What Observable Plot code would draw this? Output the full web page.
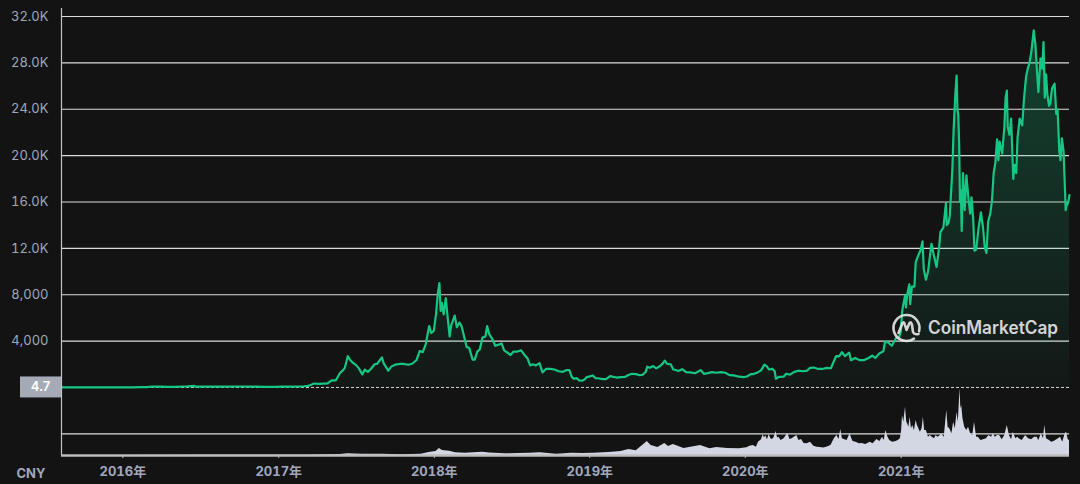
<!DOCTYPE html>
<html><head><meta charset="utf-8">
<script src="https://cdn.jsdelivr.net/npm/d3@7"></script>
<script src="https://cdn.jsdelivr.net/npm/@observablehq/plot@0.6"></script>
<style>
html,body{margin:0;padding:0;background:#131313;overflow:hidden;}
#chart{width:1080px;height:484px;}
</style></head><body><div id="chart"></div>
<script>
// ---- data (ETH price in CNY) ----
const price2015 = [["08-10",4.7],["08-20",8],["09-01",8.5],["09-15",5.8],["10-01",4.3],["10-20",3.2],["11-01",6.5],["11-15",6],["12-01",5.5],["12-20",5.7]];
const price2016 = [["01-10",6.3],["01-25",15],["02-10",25],["02-25",35],["03-10",75],["03-20",80],["04-01",75],["04-15",55],["05-01",56],["05-20",87],["06-01",92],["06-17",135],["06-20",70],["07-01",80],["07-20",84],["08-01",69],["08-20",73],["09-01",80],["09-20",88],["10-05",86],["10-25",75],["11-10",71],["11-25",56],["12-10",56],["12-25",49]];
const price2017 = [["01-05",70],["01-20",73],["02-05",79],["02-20",88],["03-01",110],["03-10",143],["03-15",195],["03-25",345],["04-05",310],["04-15",330],["04-25",345],["05-05",620],["05-15",620],["05-25",1270],["06-01",1500],["06-05",1700],["06-12",2700],["06-18",2350],["06-25",2100],["07-01",1950],["07-08",1650],["07-16",1130],["07-22",1550],["07-29",1340],["08-05",1600],["08-14",2000],["08-20",2050],["08-31",2600],["09-04",2100],["09-15",1450],["09-22",1800],["10-01",1970],["10-12",2030],["10-20",2040],["11-01",1960],["11-10",2050],["11-20",2350],["11-28",3150],["12-05",3050],["12-12",3750],["12-20",5300],["12-25",4700],["12-31",4900]];
const price2018 = [["01-05",6300],["01-09",8000],["01-13",9000],["01-16",6600],["01-19",7300],["01-23",6300],["01-28",7700],["02-01",6200],["02-06",4400],["02-10",5400],["02-18",6200],["02-23",5200],["03-01",5600],["03-06",5300],["03-12",4400],["03-18",3500],["03-24",3400],["04-01",2400],["04-06",2400],["04-12",3100],["04-18",3300],["04-24",4300],["05-01",4400],["05-05",5300],["05-10",4600],["05-17",4200],["05-24",3600],["06-01",3700],["06-08",3800],["06-14",3200],["06-22",3000],["06-29",2800],["07-06",3100],["07-15",3100],["07-24",3200],["08-01",2800],["08-08",2500],["08-14",1900],["08-20",2000],["08-27",1900],["09-05",2100],["09-12",1300],["09-20",1600],["09-30",1600],["10-10",1550],["10-20",1400],["10-30",1350],["11-08",1500],["11-14",1500],["11-20",900],["11-25",750],["12-01",810],["12-07",620],["12-14",580],["12-20",700],["12-25",900]];
const price2019 = [["01-01",960],["01-08",1040],["01-14",810],["01-20",800],["02-01",730],["02-08",720],["02-18",990],["02-25",920],["03-05",860],["03-15",900],["03-25",920],["04-03",1100],["04-10",1180],["04-20",1150],["04-28",1060],["05-05",1100],["05-12",1330],["05-16",1800],["05-22",1700],["05-30",1850],["06-06",1650],["06-15",1850],["06-22",2100],["06-26",2320],["07-01",2050],["07-10",2000],["07-16",1550],["07-20",1530],["07-28",1420],["08-06",1580],["08-15",1320],["08-25",1300],["09-05",1230],["09-18",1500],["09-26",1180],["10-05",1240],["10-15",1320],["10-25",1270],["11-05",1320],["11-15",1270],["11-25",1070],["12-05",1040],["12-18",930],["12-28",900]];
const price2020 = [["01-05",950],["01-14",1150],["01-20",1160],["01-30",1300],["02-07",1480],["02-15",1970],["02-20",1850],["02-26",1550],["03-05",1600],["03-10",1400],["03-13",760],["03-20",920],["03-31",930],["04-06",1190],["04-15",1110],["04-25",1350],["05-05",1450],["05-15",1400],["05-25",1450],["06-01",1700],["06-10",1720],["06-20",1600],["06-30",1600],["07-10",1690],["07-20",1660],["07-25",2100],["08-01",2700],["08-08",2680],["08-15",3040],["08-22",2700],["09-01",3000],["09-05",2350],["09-15",2550],["09-25",2360],["10-05",2360],["10-15",2530],["10-25",2740],["11-01",2550],["11-10",2920],["11-20",3130],["11-24",3950],["12-01",3890],["12-10",3600],["12-20",4270],["12-27",4330],["12-31",4800]];
const price2021 = [["01-03",6500],["01-05",7000],["01-10",7900],["01-12",6900],["01-15",8000],["01-20",8900],["01-22",7200],["01-26",8700],["02-01",8700],["02-04",10800],["02-10",11400],["02-15",11800],["02-20",12600],["02-23",10200],["02-28",9300],["03-05",10000],["03-13",12400],["03-18",11500],["03-25",10400],["03-31",12100],["04-03",13400],["04-10",13800],["04-16",15900],["04-18",14000],["04-22",14200],["04-25",14800],["05-01",18800],["05-04",22200],["05-08",25300],["05-11",26900],["05-13",24000],["05-15",23500],["05-17",21000],["05-19",16000],["05-21",17000],["05-23",13500],["05-26",18500],["05-30",15300],["06-03",18300],["06-08",16200],["06-12",15000],["06-15",16400],["06-19",14500],["06-22",11800],["06-26",11900],["07-01",13600],["07-07",15100],["07-12",13800],["07-16",12100],["07-20",11600],["07-24",14300],["07-29",15000],["08-02",16100],["08-06",18500],["08-10",19400],["08-14",21400],["08-17",19600],["08-20",21200],["08-26",20200],["08-31",22400],["09-03",25000],["09-06",25600],["09-08",22500],["09-12",21800],["09-16",23200],["09-21",18000],["09-24",19200],["09-28",18500],["10-01",21500],["10-06",23200],["10-12",22600],["10-16",24800],["10-21",26800],["10-25",27500],["10-29",28000],["11-03",29100],["11-08",30800],["11-10",30200],["11-12",29600],["11-16",27100],["11-19",25500],["11-24",28400],["11-28",27500],["12-01",29800],["12-04",25000],["12-07",27000],["12-10",25300],["12-14",24300],["12-17",24500],["12-21",25800],["12-27",26200],["12-31",23600]];
const price2022 = [["01-03",24000],["01-07",20400],["01-10",19600],["01-13",21500],["01-17",20400],["01-21",16500],["01-22",15300],["01-24",15700],["01-26",15800],["01-28",16000],["01-31",16600]];

// daily traded volume (billion CNY)
const volumeEarly = [["2015-08-10",0],["2016-01-01",0.5],["2016-06-17",2],["2016-12-31",1],["2017-03-01",2],["2017-05-25",6],["2017-06-12",10],["2017-07-16",8],["2017-08-31",7],["2017-10-15",5],["2017-12-01",8],["2017-12-20",18],["2018-01-05",24],["2018-01-13",42],["2018-01-20",30],["2018-02-06",26],["2018-02-20",16],["2018-03-15",14],["2018-04-25",20],["2018-05-10",15],["2018-06-15",10],["2018-08-14",14],["2018-09-06",16],["2018-10-15",8],["2018-11-20",14],["2018-12-15",12],["2019-01-10",14],["2019-02-15",18],["2019-03-15",24],["2019-04-03",36],["2019-04-20",28],["2019-05-16",84],["2019-05-25",60],["2019-06-10",48],["2019-06-26",72],["2019-07-05",54],["2019-07-16",66],["2019-08-10",42],["2019-09-18",60],["2019-10-10",40],["2019-10-26",48],["2019-11-20",42],["2019-12-18",40]];
const volume2020 = [["01-05",46],["01-12",55],["01-20",60],["01-27",50],["02-01",80],["02-08",95],["02-12",125],["02-15",105],["02-18",118],["02-22",95],["02-26",126],["03-01",100],["03-05",96],["03-09",110],["03-13",144],["03-17",105],["03-20",110],["03-25",90],["04-01",100],["04-06",118],["04-10",132],["04-15",96],["04-20",100],["04-25",110],["05-01",120],["05-06",90],["05-12",96],["05-18",72],["05-25",70],["06-02",80],["06-10",56],["06-18",50],["06-25",48],["07-03",45],["07-10",50],["07-20",60],["07-28",100],["08-03",120],["08-08",96],["08-12",156],["08-16",100],["08-20",96],["08-27",90],["09-03",130],["09-07",100],["09-10",84],["09-17",80],["09-25",70],["10-01",72],["10-10",66],["10-20",80],["10-27",70],["11-05",96],["11-12",84],["11-18",110],["11-22",90],["11-26",150],["12-01",110],["12-05",90],["12-12",80],["12-20",84],["12-25",90],["12-30",100]];
const volume2021 = [["01-02",150],["01-04",240],["01-07",200],["01-11",290],["01-14",200],["01-16",190],["01-19",170],["01-22",230],["01-25",160],["01-28",180],["02-01",150],["02-05",210],["02-08",180],["02-10",170],["02-15",140],["02-19",160],["02-22",230],["02-25",150],["03-01",150],["03-06",110],["03-10",120],["03-15",110],["03-20",100],["03-24",120],["03-28",110],["04-03",120],["04-06",130],["04-12",110],["04-18",270],["04-21",170],["04-25",160],["04-30",130],["05-04",200],["05-08",160],["05-12",260],["05-15",200],["05-19",400],["05-21",280],["05-23",300],["05-26",220],["05-30",170],["06-04",150],["06-08",170],["06-13",130],["06-18",120],["06-22",200],["06-27",110],["07-01",110],["07-07",90],["07-13",95],["07-20",100],["07-26",120],["08-01",110],["08-05",130],["08-10",110],["08-15",120],["08-20",120],["08-26",95],["09-01",120],["09-07",180],["09-12",120],["09-17",95],["09-21",140],["09-27",100],["10-01",110],["10-05",100],["10-12",90],["10-20",120],["10-27",100],["11-03",95],["11-10",110],["11-16",110],["11-20",90],["11-26",130],["12-01",100],["12-04",180],["12-08",100],["12-15",90],["12-20",80],["12-27",85]];
const volume2022 = [["01-05",100],["01-10",110],["01-15",80],["01-21",130],["01-24",140],["01-28",95],["01-31",90]];

const priceTicks = [4000, 8000, 12000, 16000, 20000, 24000, 28000, 32000];
const gridValues = [-4000, 4000, 8000, 12000, 16000, 20000, 24000, 28000, 32000];
const yearTicks = ["2016-01-01","2017-01-01","2018-01-01","2019-01-01","2020-01-01","2021-01-01"];
const currencyLabel = "CNY";
const brandName = "CoinMarketCap";

// ---- build tables ----
const utc = s => new Date(s + "T00:00:00Z");
const yearly = {2015: price2015, 2016: price2016, 2017: price2017, 2018: price2018, 2019: price2019, 2020: price2020, 2021: price2021, 2022: price2022};
const prices = Object.entries(yearly).flatMap(([yr, arr]) => arr.map(([md, v]) => ({date: utc(`${yr}-${md}`), value: v})));
const volumes = [
  ...volumeEarly.map(([d, v]) => ({date: utc(d), volume: v})),
  ...Object.entries({2020: volume2020, 2021: volume2021, 2022: volume2022}).flatMap(([yr, arr]) => arr.map(([md, v]) => ({date: utc(`${yr}-${md}`), volume: v})))
];
const years = yearTicks.map(utc);
const startPrice = prices[0].value;

// price axis extends below zero to host the volume panel
const yTop = 32690, yBottom = -5865;
const volToY = v => yBottom + v * 14.375;

const fmt = v => v >= 10000 ? (v / 1000).toFixed(1) + "K" : d3.format(",")(v);
const labelColor = "#a1a7bb";

const chart = Plot.plot({
  width: 1080, height: 484,
  marginLeft: 61, marginRight: 11, marginTop: 8, marginBottom: 29,
  style: {background: "#131313", color: labelColor, fontFamily: "Inter, 'Noto Sans CJK SC', sans-serif", fontSize: "13px"},
  x: {type: "utc", domain: [prices[0].date, prices[prices.length - 1].date], axis: null},
  y: {domain: [yBottom, yTop], axis: null},
  marks: [
    Plot.ruleY(gridValues, {stroke: "#dcdcdc", strokeWidth: 1.2}),
    Plot.ruleY([startPrice], {stroke: "#d8d8d8", strokeWidth: 1, strokeDasharray: "3,2"}),
    Plot.areaY(volumes, {x: "date", y1: yBottom, y2: d => volToY(d.volume), fill: "#d3d7e3"}),
    Plot.areaY(prices, {x: "date", y: "value", fill: "url(#ethGrad)"}),
    Plot.lineY(prices, {x: "date", y: "value", stroke: "#16c784", strokeWidth: 2.2, strokeLinejoin: "round"}),
    Plot.ruleX([prices[0].date], {stroke: "#c4c4c4", strokeWidth: 1.2}),
    Plot.ruleY([yBottom], {stroke: "#bdbdbd", strokeWidth: 2.5}),
    Plot.axisY(priceTicks, {tickSize: 0, tickPadding: 13, tickFormat: fmt, label: null, fill: labelColor, fontSize: 13}),
    Plot.axisX(years, {tickSize: 3, tickPadding: 8, stroke: "#bdbdbd", tickFormat: d => d.getUTCFullYear() + "年", label: null, fill: labelColor, fontWeight: "bold", fontSize: 13}),
    Plot.text([currencyLabel], {frameAnchor: "bottom-left", dx: -45, dy: 22, textAnchor: "start", fill: labelColor, fontWeight: "bold", fontSize: 13})
  ]
});

const svg = d3.select(chart);
const defs = svg.insert("defs", ":first-child");
const grad = defs.append("linearGradient").attr("id", "ethGrad").attr("x1", 0).attr("y1", 0).attr("x2", 0).attr("y2", 1);
grad.append("stop").attr("offset", "0%").attr("stop-color", "#16c784").attr("stop-opacity", 0.26);
grad.append("stop").attr("offset", "100%").attr("stop-color", "#16c784").attr("stop-opacity", 0.03);

const ys = chart.scale("y");
const y0 = ys.apply(startPrice);
const tag = svg.append("g");
tag.append("rect").attr("x", 20).attr("y", y0 - 10.5).attr("width", 41).attr("height", 21).attr("fill", "#a4aab6");
tag.append("text").attr("x", 40.5).attr("y", y0).attr("dy", "0.35em").attr("text-anchor", "middle")
  .attr("fill", "#ffffff").attr("font-size", 13).attr("font-weight", 600).attr("font-family", "Inter, sans-serif").text(String(startPrice));

// watermark
const wx = 928, wy = 328;
const wm = svg.append("g").attr("opacity", 0.9);
const cx = wx - 21.5, cy = wy, r = 13;
const a1 = 55 * Math.PI / 180, a2 = 15 * Math.PI / 180;
wm.append("path")
  .attr("d", `M${cx + r * Math.cos(a1)},${cy + r * Math.sin(a1)} A${r},${r} 0 1 1 ${cx + r * Math.cos(a2)},${cy + r * Math.sin(a2)}`)
  .attr("fill", "none").attr("stroke", "#e8e8e8").attr("stroke-width", 2.6).attr("stroke-linecap", "round");
wm.append("path")
  .attr("d", `M${cx - 8},${cy + 5} L${cx - 4},${cy - 5} Q${cx - 2.5},${cy - 7} ${cx - 1.5},${cy - 3} L${cx},${cy + 2} L${cx + 3},${cy - 5} Q${cx + 4.5},${cy - 7} ${cx + 5.5},${cy - 3} L${cx + 6.5},${cy + 4} Q${cx + 8},${cy + 7} ${cx + 12},${cy + 6}`)
  .attr("fill", "none").attr("stroke", "#e8e8e8").attr("stroke-width", 2.6).attr("stroke-linecap", "round").attr("stroke-linejoin", "round");
wm.append("text").attr("x", wx).attr("y", wy).attr("dy", "0.36em").attr("text-anchor", "start")
  .attr("fill", "#e8e8e8").attr("font-size", 18).attr("font-weight", 600).attr("font-family", "Inter, sans-serif")
  .attr("textLength", 130).attr("lengthAdjust", "spacingAndGlyphs").text(brandName);

document.getElementById("chart").appendChild(chart);
</script>
</body></html>
